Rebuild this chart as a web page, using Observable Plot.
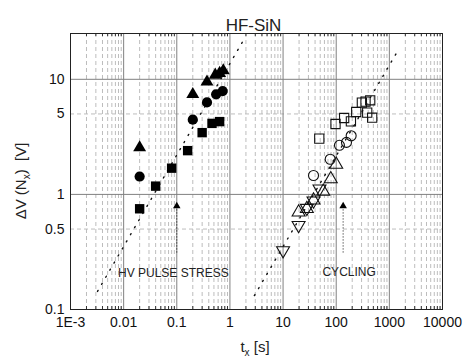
<!DOCTYPE html>
<html><head><meta charset="utf-8">
<script src="https://cdn.jsdelivr.net/npm/d3@7"></script>
<script src="https://cdn.jsdelivr.net/npm/@observablehq/plot@0.6"></script>
<style>body{margin:0;background:#fff;}</style>
</head><body><div id="chart"></div>
<script>
// ---- data ----
const title = "HF-SiN";
const xTickValues = [0.001, 0.01, 0.1, 1, 10, 100, 1000, 10000];
const xTickLabels = ["1E-3", "0.01", "0.1", "1", "10", "100", "1000", "10000"];
const yTickValues = [0.1, 0.5, 1, 5, 10];
const yTickLabels = ["0.1", "0.5", "1", "5", "10"];
const yMajorGrid = [1, 10];
const yMinorGrid = [0.5, 5];

// HV pulse stress (filled)
const hvSquareT = [0.02, 0.04, 0.08, 0.16, 0.3, 0.46, 0.64];
const hvSquareV = [0.75, 1.18, 1.69, 2.4, 3.44, 4.14, 4.29];
const hvCircleT = [0.02, 0.2, 0.37, 0.55, 0.73];
const hvCircleV = [1.43, 4.46, 6.3, 7.4, 7.9];
const hvTriangleT = [0.02, 0.2, 0.37, 0.53, 0.64, 0.75];
const hvTriangleV = [2.55, 7.4, 9.5, 10.9, 11.3, 11.9];

// Cycling (open)
const cySquareT = [48, 97, 141, 189, 238, 304, 356, 436, 383, 475];
const cySquareV = [3.05, 4.09, 4.61, 4.31, 5.2, 6.27, 6.4, 6.57, 5.13, 4.64];
const cyCircleT = [37.4, 77, 115, 156, 191];
const cyCircleV = [1.46, 2.02, 2.67, 2.83, 3.23];
const cyUpT = [19.6, 28, 37.4, 57, 79, 100];
const cyUpV = [0.70, 0.75, 0.89, 1.06, 1.36, 1.82];
const cyDownT = [10, 19.6, 28, 37.4, 48.5];
const cyDownV = [0.326, 0.54, 0.76, 0.88, 1.12];

// dotted fit lines (end points)
const fitHvT = [0.00322, 1.71];
const fitHvV = [0.1435, 21.0];
const fitCyT = [2.88, 1462];
const fitCyV = [0.132, 17.9];

// marker arrows
const arrowT = [0.1, 135];
const arrowLow = [0.31, 0.31];
const arrowHigh = [0.75, 0.75];
const arrowTip = [0.79, 0.79];

// annotations
const noteText = ["HV PULSE STRESS", "CYCLING"];
const noteT = [0.086, 175];
const noteV = [0.206, 0.21];

// ---- helpers ----
const pts = (ts, vs) => ts.map((t, i) => ({t, v: vs[i]}));
const xMinor = [];
for (let e = -3; e < 4; e++) for (let k = 2; k <= 9; k++) xMinor.push(k * Math.pow(10, e));
const labelFor = (vals, labels) => d => {
  const i = vals.findIndex(v => Math.abs(Math.log10(v) - Math.log10(d)) < 1e-6);
  return i >= 0 ? labels[i] : "";
};
const triangleDown = {
  draw(context, size) {
    const y = -Math.sqrt(size / (Math.sqrt(3) * 3));
    context.moveTo(0, -2 * y);
    context.lineTo(Math.sqrt(3) * y, y);
    context.lineTo(-Math.sqrt(3) * y, y);
    context.closePath();
  }
};
const font = "'Liberation Sans', Arial, sans-serif";
const plotH = 364 - 33 - 55;

const plot = Plot.plot({
  width: 463, height: 364,
  marginLeft: 70, marginRight: 21, marginTop: 33, marginBottom: 55,
  style: {fontFamily: font, fontSize: "14px", background: "white", color: "#111", overflow: "visible"},
  x: {type: "log", domain: [0.001, 10000], ticks: xTickValues, tickFormat: labelFor(xTickValues, xTickLabels), tickSize: 0, tickPadding: 8, label: null},
  y: {type: "log", domain: [0.1, 25], ticks: yTickValues, tickFormat: labelFor(yTickValues, yTickLabels), tickSize: 0, tickPadding: 6, label: null},
  marks: [
    Plot.ruleX(xMinor, {stroke: "#bdbdbd", strokeDasharray: "4,3"}),
    Plot.ruleY(yMinorGrid, {stroke: "#bdbdbd", strokeDasharray: "4,3"}),
    Plot.ruleX(xTickValues.slice(1, -1), {stroke: "#808080"}),
    Plot.ruleY(yMajorGrid, {stroke: "#808080"}),
    Plot.ruleX(xMinor, {stroke: "#333", insetTop: plotH - 3}),
    Plot.ruleX(xMinor, {stroke: "#333", insetBottom: plotH - 3}),
    Plot.frame({stroke: "#222"}),
    Plot.line(pts(fitHvT, fitHvV), {x: "t", y: "v", stroke: "#111", strokeWidth: 1.4, strokeDasharray: "1.2,7"}),
    Plot.line(pts(fitCyT, fitCyV), {x: "t", y: "v", stroke: "#111", strokeWidth: 1.4, strokeDasharray: "1.2,7"}),
    Plot.ruleX(arrowT.map((t, i) => ({t, a: arrowLow[i], b: arrowHigh[i]})), {x: "t", y1: "a", y2: "b", stroke: "#111", strokeDasharray: "1,2"}),
    Plot.dot(pts(arrowT, arrowTip), {x: "t", y: "v", symbol: "triangle", r: 2.8, fill: "#000"}),
    Plot.dot(pts(hvSquareT, hvSquareV), {x: "t", y: "v", symbol: "square", r: 5.3, fill: "#000"}),
    Plot.dot(pts(hvCircleT, hvCircleV), {x: "t", y: "v", symbol: "circle", r: 5.1, fill: "#000"}),
    Plot.dot(pts(hvTriangleT, hvTriangleV), {x: "t", y: "v", symbol: "triangle", r: 4.8, fill: "#000"}),
    Plot.dot(pts(cySquareT, cySquareV), {x: "t", y: "v", symbol: "square", r: 5.2, fill: "none", stroke: "#111", strokeWidth: 1.1}),
    Plot.dot(pts(cyCircleT, cyCircleV), {x: "t", y: "v", symbol: "circle", r: 5, fill: "none", stroke: "#111", strokeWidth: 1.1}),
    Plot.dot(pts(cyUpT, cyUpV), {x: "t", y: "v", symbol: "triangle", r: 4.8, fill: "none", stroke: "#111", strokeWidth: 1.1}),
    Plot.dot(pts(cyDownT, cyDownV), {x: "t", y: "v", symbol: triangleDown, r: 4.8, fill: "none", stroke: "#111", strokeWidth: 1.1}),
    Plot.text(noteText.map((s, i) => ({s, t: noteT[i], v: noteV[i]})), {x: "t", y: "v", text: "s", fontSize: 12, fill: "#222"}),
    Plot.text([title], {frameAnchor: "top", dy: -15, dx: -3, fontSize: 17, fill: "#222"})
  ]
});

const svg = d3.select(plot);
const yl = svg.append("text")
  .attr("transform", "translate(26,181) rotate(-90)")
  .attr("text-anchor", "middle")
  .attr("font-family", font).attr("font-size", 15).attr("fill", "#222");
yl.append("tspan").text("\u0394V (N");
yl.append("tspan").attr("font-size", 10).attr("dy", 4).text("x");
yl.append("tspan").attr("dy", -4).text(")  [V]");
const xl = svg.append("text")
  .attr("x", 255).attr("y", 352)
  .attr("text-anchor", "middle")
  .attr("font-family", font).attr("font-size", 15).attr("fill", "#222");
xl.append("tspan").text("t");
xl.append("tspan").attr("font-size", 10).attr("dy", 4).text("x");
xl.append("tspan").attr("dy", -4).text(" [s]");

document.getElementById("chart").appendChild(plot);
</script>
</body></html>
